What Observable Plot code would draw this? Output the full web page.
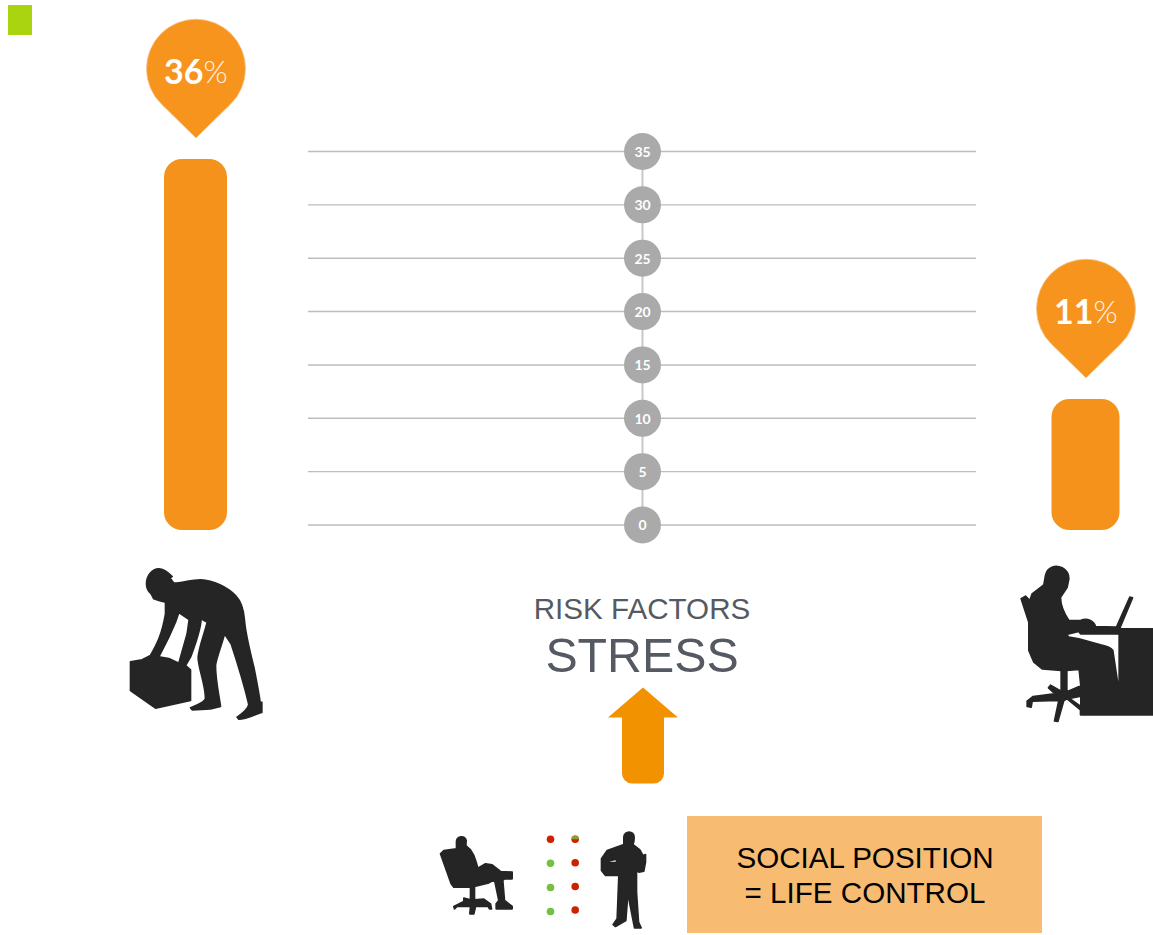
<!DOCTYPE html>
<html>
<head>
<meta charset="utf-8">
<script src="https://cdn.jsdelivr.net/npm/d3@7"></script>
<script src="https://cdn.jsdelivr.net/npm/@observablehq/plot@0.6"></script>
<style>
  html, body { margin: 0; padding: 0; background: #fff; }
  #page { position: relative; width: 1153px; height: 935px; overflow: hidden; }
  #page svg { position: absolute; left: 0; top: 0; background: transparent; }
</style>
</head>
<body>
<div id="page"></div>
<script>
// Chart values
const jobs = ["Manual work", "Office work"];
const stressRisk = [36, 11];
const gridTicks = [0, 5, 10, 15, 20, 25, 30, 35];
const headingLines = ["RISK FACTORS", "STRESS"];
const boxLines = ["SOCIAL POSITION", "= LIFE CONTROL"];
const dotColumns = [
  ["red", "green", "green", "green"],
  ["mixed", "red", "red", "red"]
];

// Layout
const W = 1153, H = 935;
const BAR = {
  "Manual work": {x: 195.5, w: 63},
  "Office work": {x: 1085.5, w: 68}
};
const PIN_GAP = 21.5;
const ORANGE = "#f5921b";
const GREY = "#aaaaaa";
const INK = "#555a62";
const SANS = "'Liberation Sans', Arial, sans-serif";
const LATO = "Lato, sans-serif";
const DOT_X = [550, 574.7];
const DOT_Y = [[838.7, 862.7, 887, 911], [838.7, 862.3, 886, 909.5]];
const DOT_FILL = {red: "#cc2200", green: "#74bf44", mixed: "#cc2200"};

const tableBars = jobs.map((job, i) => ({job, value: stressRisk[i]}));
const pixelScale = n => ({domain: [0, n], range: [0, n], axis: null});
const stack = (options) => document.getElementById("page").append(Plot.plot({
  width: W, height: H, margin: 0, ...options
}));

// Teardrop marker: a circle closing to a point below its centre
const pin = {
  draw(ctx, size) {
    const r = Math.sqrt(size / Math.PI), tip = r * 1.4;
    const a = Math.acos(r / tip);
    const sa = Math.PI / 2 - a, ea = Math.PI / 2 + a;
    ctx.moveTo(0, tip);
    ctx.lineTo(r * Math.cos(sa), r * Math.sin(sa));
    ctx.arc(0, 0, r, sa, ea, true);
    ctx.closePath();
  }
};

// Block arrow, drawn about its own centre
const upArrow = {
  draw(ctx, size) {
    const u = Math.sqrt(size / Math.PI) / 48;
    ctx.moveTo(0, -48 * u);
    ctx.lineTo(35 * u, -18 * u);
    ctx.lineTo(21 * u, -18 * u);
    ctx.lineTo(21 * u, 38 * u);
    ctx.arc(11 * u, 38 * u, 10 * u, 0, Math.PI / 2);
    ctx.lineTo(-11 * u, 48 * u);
    ctx.arc(-11 * u, 38 * u, 10 * u, Math.PI / 2, Math.PI);
    ctx.lineTo(-21 * u, -18 * u);
    ctx.lineTo(-35 * u, -18 * u);
    ctx.closePath();
  }
};

// Half disc used for the overprinted dot
const upperHalf = {
  draw(ctx, size) {
    const r = Math.sqrt(size / Math.PI);
    ctx.arc(0, 0, r, Math.PI, 0);
    ctx.closePath();
  }
};

// Silhouettes, each in its own viewBox
const silhouette = (w, h, d) =>
  "data:image/svg+xml," + encodeURIComponent(
    `<svg xmlns="http://www.w3.org/2000/svg" viewBox="0 0 ${w} ${h}" width="${w}" height="${h}"><path fill="#252525" stroke="#252525" stroke-width="5" stroke-linejoin="round" fill-rule="evenodd" d="${d}"/></svg>`
  );

const lifter = silhouette(510, 540,
  "M108,100 C108,75 125,55 145,55 C160,55 175,68 185,78 L178,82 L190,98 C215,98 240,88 270,88 C310,90 350,110 375,135 C395,155 400,180 402,210 C405,250 420,310 430,350 C440,400 447,440 450,462 L454,455 L454,486 C435,490 410,506 385,506 L380,500 C395,490 412,478 415,462 C405,420 385,350 362,280 L342,250 C335,280 318,320 315,345 C315,390 325,430 330,468 L300,475 L245,478 L240,472 C255,465 280,458 285,445 C285,400 262,350 263,320 C265,290 285,240 290,215 L272,205 C270,240 255,280 240,320 L225,345 L240,358 L240,450 L135,473 L60,420 L60,334 L95,328 L120,315 C140,280 155,250 165,190 L165,155 L145,150 L130,145 L122,130 C110,120 108,110 108,100 Z " +
  "M205,186 L236,207 L230,250 L205,338 L175,324 L145,319 L175,260 L195,215 Z");

const typist = silhouette(459, 540,
  "M135,75 C140,50 165,42 185,52 C200,60 205,70 205,85 L200,110 L188,128 L180,140 C180,165 195,195 205,210 L240,210 C260,202 280,210 285,228 L348,230 L388,140 L396,142 L357,235 L459,235 L459,493 L240,493 L240,478 L200,445 L190,450 L172,513 L162,511 L175,450 L95,452 L92,470 L80,468 L80,452 L98,438 L178,428 L158,425 L144,412 L150,404 L182,422 L182,360 L125,355 L100,335 L85,300 L85,215 L62,145 L75,137 L88,150 L95,130 L130,103 Z " +
  "M198,252 L235,243 L240,250 L356,250 L356,400 L352,400 L337,300 C330,290 320,288 300,283 L235,265 L205,260 Z " +
  "M199,360 L236,357 L241,406 L199,424 Z M207,444 L241,437 L241,468 Z");

const caller = silhouette(690, 345,
  "M78,68 C76,46 104,42 107,60 L106,75 L120,88 L130,105 L137,125 L142,143 L165,130 L185,133 L210,153 L245,155 L245,175 L222,175 L217,180 L222,240 L245,258 L245,265 L197,265 L197,250 L205,240 L192,178 L175,187 L132,198 L132,238 L160,236 L180,250 L183,265 L177,265 L172,257 L135,258 L130,280 L118,280 L120,258 L80,257 L72,265 L70,258 L100,243 L100,233 L120,238 L120,200 L70,200 L62,190 L30,100 L40,90 L78,85 Z");

const carrier = silhouette(690, 345,
  "M580,50 C580,30 612,28 611,52 C611,60 610,66 607,72 L628,88 L637,105 L645,102 L645,125 L640,152 L625,155 L618,150 L618,215 L624,305 L632,322 L612,322 L598,250 L593,215 L589,260 L586,300 L555,318 L548,312 L560,295 L565,165 L525,165 L513,150 L513,115 L530,90 L580,72 Z " +
  "M529,123 L558,116 L558,126 L529,126 Z");

const figures = [
  {src: lifter, x: 195, y: 640, w: 170, h: 180},
  {src: typist, x: 1076.5, y: 640, w: 153, h: 180},
  {src: caller, x: 545, y: 877.5, w: 230, h: 115},
  {src: carrier, x: 545, y: 877.5, w: 230, h: 115}
];

const dots = dotColumns.flatMap((column, c) =>
  column.map((state, r) => ({state, x: DOT_X[c], y: DOT_Y[c][r]})));

// Page furniture positioned in pixels
stack({
  x: pixelScale(W),
  y: pixelScale(H),
  marks: [
    Plot.rect([0], {x1: 8, x2: 32, y1: 5, y2: 35, fill: "#a9d40f"}),
    Plot.rect([0], {x1: 687, x2: 1042, y1: 816, y2: 933, fill: "#f8bb72"}),
    ...figures.map(f => Plot.image([f], {x: "x", y: "y", width: f.w, height: f.h, src: "src"})),
    Plot.dot([0], {x: 642.5, y: 735, r: 48, symbol: upArrow, fill: "#f39200"}),
    Plot.dot(dots, {x: "x", y: "y", r: 3.8, fill: d => DOT_FILL[d.state]}),
    Plot.dot(dots.filter(d => d.state === "mixed"), {x: "x", y: "y", r: 3.8, symbol: upperHalf, fill: "#8fa02a"}),
    Plot.text([headingLines[0]], {x: 641.5, y: 609, text: d => d, fontFamily: SANS, fontSize: 29.6, fill: INK}),
    Plot.text([headingLines[1]], {x: 641.5, y: 656, text: d => d, fontFamily: SANS, fontSize: 48.3, fill: INK}),
    Plot.text(boxLines, {x: 864.5, y: (d, i) => 858 + i * 35, text: d => d, fontFamily: SANS, fontSize: 29.6, fill: "#000"})
  ]
});

// Scale of badges and gridlines
stack({
  x: pixelScale(W),
  y: {domain: [0, 35], range: [524.5, 151], axis: null},
  marks: [
    Plot.ruleY(gridTicks, {x1: 308, x2: 976, stroke: "#bdbdbd", strokeWidth: 1.4}),
    Plot.ruleX([642], {y1: 0, y2: 35, stroke: "#c8c8c8", strokeWidth: 2}),
    Plot.dot(gridTicks, {x: 642, y: d => d, r: 18.5, fill: GREY}),
    Plot.text(gridTicks, {x: 642, y: d => d, dy: 1, text: d => String(d), fontFamily: LATO, fontWeight: 700, fontSize: 14, fill: "#fff"})
  ]
});

// Rounded bars with their value pins
const barScale = {domain: [-2.65, 36], range: [530, 159], axis: null};
const px = 371 / 38.65;
const pinAbove = PIN_GAP / px;
stack({
  x: pixelScale(W),
  y: barScale,
  marks: [
    Plot.rect(tableBars, {
      x1: d => BAR[d.job].x - BAR[d.job].w / 2,
      x2: d => BAR[d.job].x + BAR[d.job].w / 2,
      y1: barScale.domain[0],
      y2: "value",
      rx: 18,
      fill: ORANGE
    }),
    Plot.dot(tableBars, {
      x: d => BAR[d.job].x,
      y: d => d.value + pinAbove,
      dy: -69.3,
      r: 49.5,
      symbol: pin,
      fill: "#f7941e",
      stroke: "#f2c896",
      strokeWidth: 0.8
    }),
    Plot.text(tableBars, {
      x: d => BAR[d.job].x,
      y: d => d.value + pinAbove,
      dy: -65, dx: 7.5,
      text: "value",
      textAnchor: "end",
      fontFamily: LATO, fontWeight: 700, fontSize: 34, fill: "#fff"
    }),
    Plot.text(tableBars, {
      x: d => BAR[d.job].x,
      y: d => d.value + pinAbove,
      dy: -65, dx: 7.5,
      text: () => "%",
      textAnchor: "start",
      fontFamily: LATO, fontWeight: 300, fontSize: 31, fill: "#fff", fillOpacity: 0.9
    })
  ]
});
</script>
</body>
</html>
